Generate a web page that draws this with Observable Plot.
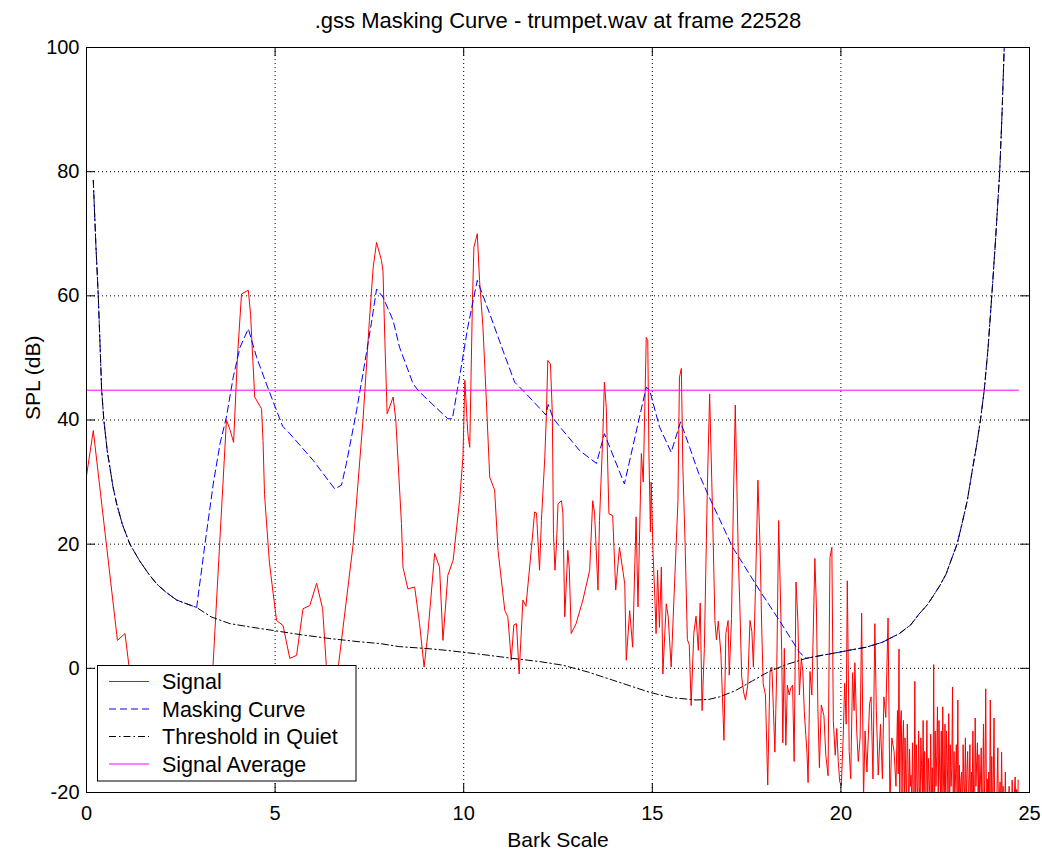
<!DOCTYPE html>
<html><head><meta charset="utf-8">
<script src="https://cdn.jsdelivr.net/npm/d3@7"></script>
<script src="https://cdn.jsdelivr.net/npm/@observablehq/plot@0.6"></script>
<style>
html,body{margin:0;padding:0;background:#fff;}
#chart svg{display:block;}
</style></head><body><div id="chart"></div>
<script>
const titleText = ".gss Masking Curve - trumpet.wav at frame 22528";
const xLabel = "Bark Scale";
const yLabel = "SPL (dB)";
const xTicks = [0, 5, 10, 15, 20, 25];
const yTicks = [-20, 0, 20, 40, 60, 80, 100];
const legendLabels = ["Signal", "Masking Curve", "Threshold in Quiet", "Signal Average"];

const signalBark = [
0.00,0.18,0.82,1.02,1.13,1.35,1.60,1.90,2.20,2.50,2.80,3.10,3.35,3.71,3.80,3.90,4.00,4.11,4.29,4.35,
4.41,4.46,4.64,4.68,4.72,4.85,4.95,5.04,5.21,5.39,5.57,5.74,5.92,6.10,6.26,6.36,6.50,6.67,7.07,7.33,
7.50,7.60,7.69,7.82,7.86,7.91,7.97,8.13,8.20,8.35,8.39,8.52,8.70,8.83,8.95,9.05,9.23,9.36,9.45,9.58,
9.72,9.89,9.98,10.03,10.11,10.16,10.23,10.27,10.36,10.42,10.51,10.60,10.69,10.82,10.91,11.09,11.17,11.26,11.33,11.40,
11.47,11.57,11.65,11.79,11.88,11.93,12.01,12.06,12.15,12.19,12.23,12.30,12.35,12.38,12.42,12.46,12.50,12.59,12.63,12.68,
12.76,12.80,12.85,12.98,13.16,13.34,13.42,13.47,13.56,13.60,13.69,13.73,13.78,13.85,13.95,14.03,14.13,14.27,14.31,14.40,
14.48,14.57,14.62,14.71,14.76,14.84,14.88,14.91,14.95,14.97,15.02,15.07,15.10,15.14,15.19,15.24,15.28,15.37,15.42,15.50,
15.59,15.68,15.72,15.77,15.81,15.87,15.93,15.98,16.03,16.10,16.16,16.22,16.27,16.32,16.38,16.46,16.52,16.60,16.66,16.70,
16.75,16.82,16.90,16.95,17.01,17.04,17.10,17.15,17.20,17.28,17.32,17.37,17.42,17.47,17.53,17.59,17.64,17.68,17.74,17.80,
17.86,17.90,17.94,18.00,18.06,18.12,18.17,18.21,18.25,18.30,18.35,18.43,18.46,18.50,18.54,18.58,18.63,18.67,18.72,18.76,
18.81,18.86,18.90,18.95,18.99,19.03,19.07,19.10,19.13,19.18,19.23,19.31,19.35,19.39,19.43,19.48,19.55,19.60,19.66,19.71,
19.76,19.80,19.85,19.89,19.93,19.97,20.01,20.06,20.10,20.14,20.17,20.22,20.26,20.31,20.35,20.37,20.42,20.46,20.51,20.55,
20.60,20.64,20.69,20.76,20.80,20.85,20.90,20.94,20.99,21.05,21.10,21.14,21.19,21.25,21.30,21.35,21.41,21.46,
21.50,21.52,21.54,21.56,21.58,21.60,21.62,21.64,21.66,21.68,
21.70,21.72,21.74,21.76,21.78,21.80,21.82,21.84,21.86,21.88,
21.90,21.92,21.94,21.96,21.98,22.00,22.02,22.04,22.06,22.08,
22.10,22.12,22.14,22.16,22.18,22.20,22.22,22.24,22.26,22.28,
22.30,22.32,22.34,22.36,22.38,22.40,22.42,22.44,22.46,22.48,
22.50,22.52,22.54,22.56,22.58,22.60,22.62,22.64,22.66,22.68,
22.70,22.72,22.74,22.76,22.78,22.80,22.82,22.84,22.86,22.88,
22.90,22.92,22.94,22.96,22.98,23.00,23.02,23.04,23.06,23.08,
23.10,23.12,23.14,23.16,23.18,23.20,23.22,23.24,23.26,23.28,
23.30,23.32,23.34,23.36,23.38,23.40,23.42,23.44,23.46,23.48,
23.50,23.52,23.54,23.56,23.58,23.60,23.62,23.64,23.66,23.68,
23.70,23.72,23.74,23.76,23.78,23.80,23.82,23.84,23.86,23.88,
23.90,23.92,23.94,23.96,23.98,24.00,24.02,24.04,24.06,24.08,
24.10,24.12,24.14,24.16,24.18,24.20,24.22,24.24,24.26,24.28,
24.30,24.32,24.34,24.36,24.38,24.40,24.42,24.44,24.46,24.48,
24.50,24.52,24.54,24.56,24.58,24.60,24.62,24.64,24.66,24.68,
24.70
];
const signalDb = [
31.0,38.3,4.5,5.6,0.2,-6,-10,-5,-11,-7,-13,-6,0,40.0,38.5,36.4,50,60.3,60.9,57,
49.6,43.7,41.8,36.7,28,17,12,7.7,6.9,1.6,2.1,9.6,10.1,13.7,9.6,0.2,-4,0,20,40,
56,64.6,68.6,65.7,64,52.8,41,43.7,40,23.3,16.3,12.8,13.1,7.2,0.2,5.6,18.5,16.3,4.5,15,
17.4,27,34,46.4,37.8,35.6,58.7,67.8,70,62.5,55,43.2,30.8,28.7,19,9.3,8.3,1.3,7,7.2,
-0.9,11,10,19,25.2,25,15.8,23.8,34,40.5,49.6,49,41,21.7,15.8,20,26.5,27,25,8.3,
19,16,5.6,7.2,11,15.8,27,25,12.6,23.8,37.8,46.1,42,24.9,24.6,12.6,19.5,13.6,1.3,9.3,
3.4,24.4,9.9,34.6,30,53.3,52.8,35,22,30,18.5,11,5.6,15.8,6.6,16.3,-0.9,10.4,8.4,0.2,
13.6,27,46.9,48.3,32.4,20,4.6,3.8,-6,5.6,8.4,2.9,10.5,-6.8,3.2,29.2,44.2,24.4,7.7,4.6,
7.6,2.2,-11.6,5.6,7.7,-1.1,8,27,42.4,17.9,10.3,-1.4,-3.8,-5.1,-2.7,7.7,5.9,0.2,14,30.3,
18.9,6.6,-2.5,-4.3,-18.8,-0.5,0.2,-6.5,-13.5,0,23.8,2.9,-12,3.2,-12.4,-2.7,-4.3,-3.2,-2.7,-15,
13.9,7.6,-4.3,1.6,-0.5,-7,-10.8,-13.5,-18.4,-0.5,-4.3,17.7,10,-6.5,-16,-5.9,-7.6,-14,-17.3,17.8,
19.5,-8.6,-14,-9.7,-15,-18.3,-18.9,-11.2,-2.4,-9,14.1,-13.4,-17.8,-0.7,-6.8,0.9,-10.1,-15,-11.2,8.9,
-21,-10.1,-16.7,-5.7,-4.6,-17.8,7.2,-6.8,-17.2,-9,-17.8,-4.6,-7.9,8.1,-22,-11.2,-13.4,-19,
-6.8,-17,3.1,-23,-9,-6.8,-20,-12,-8.4,-24,
-11.2,-18,-21,-9,-15.6,-25,-13,-19,-17.2,-22,
-12,-21,-24,-2.1,-26,-12.3,-18,-22,-10.1,-19,
-24,-11.2,-16,-20,-8.4,-23,-13.4,-26,-19,-8.4,
-25,-14.5,-18,-21,-10.6,-22,-16,-24,0.6,-24,
-10.1,-19,-14,-6.2,-23,-8.4,-17,-20,-10.1,-26,
-6.2,-18,-22,-9,-24,-10.1,-15,-21,-7.3,-25,
-12.3,-19,-16,-3,-27,-13.4,-21,-17,-12.3,-20,
-5.1,-24,-15.6,-22,-18,-16.7,-25,-12.3,-19,-21,
-11.2,-23,-17,-13.4,-21,-19,-12.3,-24,-16.7,-20,
-10.1,-22,-26,-8,-19,-15,-12,-23,-13.9,-21,
-18,-12.8,-25,-20,-9,-22,-16.1,-3.3,-24,-17.8,
-23,-16.7,-26,-5.1,-21,-14.2,-24,-18,-8,-27,
-20,-28,-19,-12.8,-26,-21,-18.3,-25,-13.5,-23,
-19,-27,-24,-16.7,-26,-20,-28,-22,-19,-25,
-21,-27,-18,-24,-26,-20,-17.5,-23,-19.5,-26,
-18
];

const maskBark = [
0.18,0.25,0.31,0.36,0.40,0.46,0.55,0.62,0.70,0.80,0.95,1.15,1.42,1.65,1.86,2.10,2.39,2.65,2.92,3.14,
3.36,3.54,3.71,3.89,4.07,4.29,4.51,4.77,5.04,5.20,5.39,6.01,6.58,6.76,6.89,7.16,7.33,7.55,7.69,7.86,
8.13,8.30,8.66,8.83,9.58,9.70,9.89,10.11,10.36,10.69,11.04,11.35,11.66,12.18,12.24,12.37,12.59,13.07,13.52,13.73,
14.26,14.48,14.84,14.93,15.19,15.50,15.75,15.99,16.23,16.47,17.13,17.84,18.37,18.90,19.08,19.50,19.96,20.30,20.67,21.10,
21.55,21.85,22.08,22.30,22.43,22.62,22.79,22.92,23.08,23.20,23.35,23.50,23.60,23.70,23.80,23.90,24.00,24.10,24.21,24.27,
24.33,24.37
];
const maskDb = [
78.6,68,60.3,52,45,40,35,32.4,29.3,26.5,23.2,20.0,17.2,15.2,13.6,12.3,11.0,10.4,9.8,20,
29.7,36.2,40.5,46.9,51.7,54.7,50.1,45.8,41.5,39,37.8,33.5,28.9,29.5,33,41.5,47.5,55.5,61.1,59.8,
56,51.7,45.8,44.5,40.2,40.2,46.9,55,62.5,57.1,51.2,46.1,44.2,40.8,42.5,40.3,38.6,35.1,33,37.8,
29.7,35.6,45.3,44.8,38.9,34.8,39.7,35.6,31.4,28.1,19.5,12.6,7.7,2.6,1.6,2.1,2.6,3.0,3.4,4.2,
5.6,7.0,8.8,10.3,11.5,13.3,15.2,17.4,20.0,23.0,27.0,32.5,36.0,40.0,44.8,51.5,60.0,69.0,80.0,89.0,
100.0,108.0
];

const threshBark = [
0.18,0.25,0.31,0.36,0.40,0.46,0.55,0.62,0.70,0.80,0.95,1.15,1.42,1.65,1.86,2.10,2.39,2.65,2.92,3.30,
3.80,4.40,4.95,5.70,6.45,7.20,7.77,8.29,9.00,9.54,10.40,11.30,12.00,12.63,13.30,13.95,14.45,14.95,15.50,16.16,
16.50,16.78,17.20,17.66,18.10,18.55,19.08,19.50,19.96,20.30,20.67,21.10,21.55,21.85,22.08,22.30,22.43,22.62,22.79,22.92,
23.08,23.20,23.35,23.50,23.60,23.70,23.80,23.90,24.00,24.10,24.21,24.27,24.33,24.37
];
const threshDb = [
78.6,68,60.3,52,45,40,35,32.4,29.3,26.5,23.2,20.0,17.2,15.2,13.6,12.3,11.0,10.4,9.8,8.3,
7.2,6.6,6.1,5.4,4.8,4.3,4.0,3.5,3.2,2.9,2.3,1.6,1.1,0.5,-0.6,-1.9,-2.9,-3.9,-4.7,-5.1,
-5.0,-4.6,-3.6,-2.0,-0.5,0.6,1.6,2.1,2.6,3.0,3.4,4.2,5.6,7.0,8.8,10.3,11.5,13.3,15.2,17.4,
20.0,23.0,27.0,32.5,36.0,40.0,44.8,51.5,60.0,69.0,80.0,89.0,100.0,108.0
];

const averageBark = [0, 24.71];
const averageDb = [44.8, 44.8];

const W = 1042, H = 850, mL = 86, mR = 13, mT = 47, mB = 58;
const FONT = "'Liberation Sans', Arial, Helvetica, sans-serif";
const fw = W - mL - mR, fh = H - mT - mB;
const TICK = 9;
const rows = (xs, ys) => xs.map((x, i) => ({x, y: ys[i]}));

const series = [
  {label: legendLabels[0], stroke: "#ff0000", dash: null},
  {label: legendLabels[1], stroke: "#0000ff", dash: "7,4"},
  {label: legendLabels[2], stroke: "#000000", dash: "7,3,1.5,3"},
  {label: legendLabels[3], stroke: "#ff00ff", dash: null}
];

const chart = Plot.plot({
  width: W, height: H,
  marginLeft: mL, marginRight: mR, marginTop: mT, marginBottom: mB,
  style: {fontFamily: FONT, background: "white", color: "black"},
  x: {domain: [0, 25]},
  y: {domain: [-20, 100]},
  marks: [
    Plot.gridX(xTicks, {stroke: "black", strokeOpacity: 1, strokeDasharray: "1,3"}),
    Plot.gridY(yTicks, {stroke: "black", strokeOpacity: 1, strokeDasharray: "1,3"}),
    Plot.line(rows(signalBark, signalDb), {x: "x", y: "y", stroke: series[0].stroke, strokeWidth: 1, clip: true}),
    Plot.line(rows(maskBark, maskDb), {x: "x", y: "y", stroke: series[1].stroke, strokeWidth: 1, strokeDasharray: series[1].dash, clip: true}),
    Plot.line(rows(threshBark, threshDb), {x: "x", y: "y", stroke: series[2].stroke, strokeWidth: 1, strokeDasharray: series[2].dash, clip: true}),
    Plot.line(rows(averageBark, averageDb), {x: "x", y: "y", stroke: series[3].stroke, strokeWidth: 1, clip: true}),
    Plot.frame({stroke: "black"}),
    Plot.tickX(xTicks, {x: d => d, insetTop: fh - TICK, stroke: "black"}),
    Plot.tickX(xTicks, {x: d => d, insetBottom: fh - TICK, stroke: "black"}),
    Plot.tickY(yTicks, {y: d => d, insetRight: fw - TICK, stroke: "black"}),
    Plot.tickY(yTicks, {y: d => d, insetLeft: fw - TICK, stroke: "black"}),
    Plot.axisX({ticks: xTicks, tickSize: 0, tickPadding: 13, fontSize: 20, label: null, tickFormat: d => String(d)}),
    Plot.axisY({ticks: yTicks, tickSize: 0, tickPadding: 7, fontSize: 20, label: null, tickFormat: d => String(d)}),
    Plot.text([titleText], {frameAnchor: "top", lineAnchor: "bottom", dy: -20, fontSize: 22, fill: "black"}),
    Plot.text([xLabel], {frameAnchor: "bottom", lineAnchor: "bottom", dy: 54, fontSize: 21, fill: "black"}),
    Plot.text([yLabel], {frameAnchor: "left", lineAnchor: "bottom", rotate: -90, dx: -47, fontSize: 21, fill: "black"})
  ]
});

// Legend box (opaque, on top of the data, like the original)
const lg = d3.select(chart).append("g").attr("font-family", FONT).attr("text-anchor", "start");
lg.append("rect").attr("x", 97.5).attr("y", 665.5).attr("width", 258.5).attr("height", 115.5)
  .attr("fill", "white").attr("stroke", "black").attr("stroke-width", 1);
series.forEach((s, i) => {
  const yy = 681.5 + i * 27.5;
  lg.append("line").attr("x1", 109).attr("x2", 149).attr("y1", yy).attr("y2", yy)
    .attr("stroke", s.stroke).attr("stroke-width", 1).attr("stroke-dasharray", s.dash);
  lg.append("text").attr("x", 162).attr("y", yy + 7.5).attr("font-size", 21.5)
    .attr("text-anchor", "start").attr("fill", "black").text(s.label);
});

document.getElementById("chart").appendChild(chart);
</script>
</body></html>
